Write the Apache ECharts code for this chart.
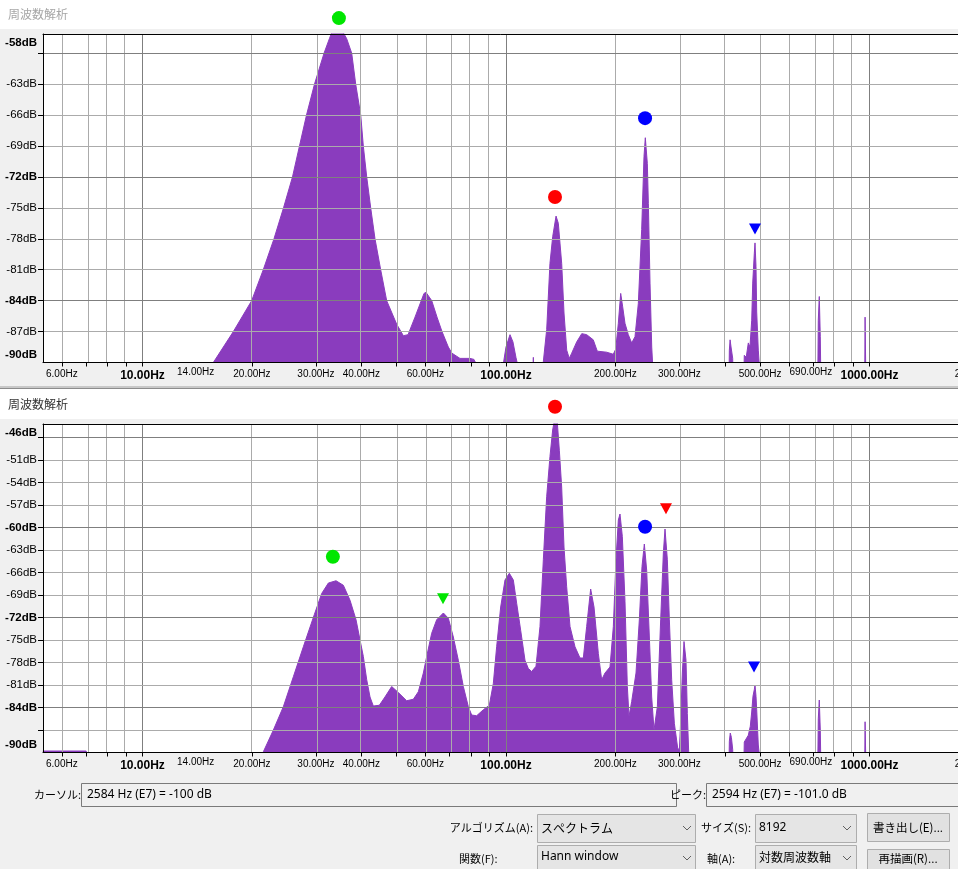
<!DOCTYPE html>
<html>
<head>
<meta charset="utf-8">
<script src="https://cdn.jsdelivr.net/npm/echarts@6/dist/echarts.min.js"></script>
<style>
  html, body { margin: 0; padding: 0; background: #f0f0f0; }
  #main { width: 958px; height: 869px; }
</style>
</head>
<body>
<div id="main"></div>
<script>
const topHz = [5.32, 15.3, 15.66, 17.78, 19.97, 21.49, 23.0, 24.43, 25.86, 27.03, 28.26, 29.73, 31.58, 32.66, 33.16, 34.4, 35.68, 36.46, 37.63, 38.59, 39.84, 40.5, 41.38, 42.44, 43.61, 45.21, 46.96, 50.05, 52.19, 53.77, 56.19, 59.49, 60.25, 62.47, 64.6, 66.68, 69.39, 71.03, 74.72, 79.6, 81.64, 83.73, 84.5,
  97.5, 97.93, 100, 102.56, 104.5, 106.5, 108.1, 108.6,
  118.5, 118.9, 119.4,
  126.2, 126.6, 129.4, 132.1, 134.4, 137.3, 139.3, 142.3, 144.4, 146.9, 149.3, 151.6, 156.5, 161.6, 166.7, 173.8, 178.3, 189.2, 197.3, 200.4, 203.7, 206.8, 209.4, 212.5, 217.0, 221.7, 226.4, 231.2, 236.2, 239.7, 241.7, 244.8, 246.4, 249.0, 251.7, 253.3, 254,
  410.5, 411.6, 413.5, 416, 420.4, 421.5,
  451, 452.4, 458, 464.1, 469, 474.2, 477.2, 482.1, 484.2, 487.3, 489.4, 494.4, 497.5, 498.5,
  720.5, 723, 727.6, 732.2, 735,
  970, 972.5, 975, 977.5, 3000];
const topDb = [-92, -92, -90, -87, -84, -81, -78, -75, -72, -69, -66, -63, -60, -58.6, -58.0, -57.6, -58.0, -58.6, -60, -63, -66, -69, -72, -75, -78, -81, -84, -86.3, -87.4, -87.3, -85.6, -83.3, -83.2, -84, -85.6, -87, -88.5, -89.1, -89.6, -89.6, -89.7, -90.5, -92,
  -92, -90.5, -88.5, -87.3, -88, -89.5, -90.5, -92,
  -92, -89.5, -92,
  -92, -90, -86.8, -80.4, -77.8, -75.8, -76.5, -80.4, -85.2, -88.8, -89.6, -89.1, -88.0, -87.2, -87.3, -87.8, -88.9, -89.0, -89.2, -88.7, -86.2, -83.3, -84.6, -86.2, -87.3, -88.1, -87.5, -84.3, -77.1, -70.0, -68.2, -70.7, -74.6, -82.3, -88.5, -90.3, -92,
  -92, -88.8, -87.8, -88.5, -89.6, -92,
  -92, -89.3, -89.5, -88.1, -88.5, -85.9, -82.3, -79.4, -78.4, -80.7, -85.1, -88.8, -90.2, -92,
  -92, -85.9, -83.6, -87.5, -92,
  -92, -85.6, -85.6, -92, -92];

const bottomHz = [5.32, 7.0, 7.05, 21.3, 21.5, 22.91, 24.4, 26.0, 27.7, 29.7, 31.11, 32.46, 34.07, 35.69, 37.23, 38.67, 39.67, 40.51, 41.38, 42.26, 43.15, 44.83, 46.45, 48.47, 50.56, 53.3, 55.6, 57.39, 59.24, 60.51, 62.45, 64.46, 67.25, 69.4, 71.63, 73.94, 76.32, 78.78, 80.46, 83.03, 86.61, 89.97, 92.28, 94.25, 96.68, 99.37, 102.13, 104.75, 106.99, 109.73, 112.78, 115.19, 117.65, 120.93, 124.03, 126.68, 129.38, 132.14, 134.39, 135.53, 138.42, 140.19, 142.28, 144.4, 146.86, 150.0, 154.81, 159.8, 163.21, 166.69, 170.97, 174.62, 179.48, 183.31, 187.22, 193.24, 197.37, 200.73, 203.72, 205.88, 208.95, 212.51, 215.68, 217.97, 221.69, 227.85, 232.71, 236.67, 240.2, 243.78, 247.94, 251.63, 255.38, 260.83, 266.4, 270.94, 273.81, 277.89, 281.43, 285.62, 290.49, 296.69, 299.84, 301.74, 305.59, 308.83, 312.77, 315.41, 318.09, 319.44,
  410.5, 411.6, 414, 417, 420.4, 421.5,
  451, 452.4, 458, 464.1, 470, 474.2, 478, 482.1, 484.2, 487.3, 489.4, 494.4, 497.5, 498.5,
  720.5, 723, 727.6, 732.2, 735,
  970, 972.5, 975, 977.5, 3000];
const bottomDb = [-89.8, -89.8, -92, -92, -89.9, -87.0, -83.9, -79.9, -75.9, -71.6, -68.8, -67.4, -67.1, -67.7, -69.7, -72.3, -75.0, -77.2, -80.3, -82.6, -83.8, -83.7, -82.6, -81.2, -82.0, -83.1, -82.9, -81.9, -79.4, -77.2, -74.1, -72.3, -71.4, -72.1, -74.6, -77.7, -81.2, -83.9, -85.0, -85.1, -84.3, -83.7, -80.8, -75.9, -70.6, -67.0, -66.1, -67.0, -70.1, -73.7, -77.7, -78.8, -79.2, -78.5, -73.2, -64.3, -55.9, -50.5, -47.0, -46.0, -46.0, -49.7, -54.6, -62.6, -67.9, -73.2, -75.9, -77.4, -77.4, -73.2, -68.2, -70.6, -76.8, -80.3, -79.4, -78.6, -73.2, -64.3, -59.0, -58.2, -61.2, -69.9, -81.2, -85.2, -83.2, -79.4, -72.3, -65.2, -62.2, -65.7, -74.6, -82.6, -87.0, -83.9, -72.3, -63.4, -60.2, -64.3, -72.3, -80.3, -86.1, -89.4, -89.7, -86.8, -79.4, -75.2, -77.7, -84.8, -89.9, -92,
  -92, -88.5, -87.4, -88, -89.6, -92,
  -92, -88.6, -88.8, -87.7, -86.5, -84.6, -82.5, -81.6, -81.0, -82.5, -84.3, -89, -90.2, -92,
  -92, -85.5, -83.0, -87.0, -92,
  -92, -85.9, -85.9, -92, -92];

// peak markers
const topCircleHz = [34.7, 136.4, 241.3];
const topCircleDb = [-56.6, -73.95, -66.3];
const topTriangleHz = [484.2];
const topTriangleDb = [-77.05];
const bottomCircleHz = [33.4, 136.4, 241.3];
const bottomCircleDb = [-63.9, -43.9, -59.9];
const bottomTriangleHz = [67.1, 275.5, 481.2];
const bottomTriangleDb = [-69.5, -57.5, -78.6];

// frequency ruler
const gridHz = [6, 7, 8, 9, 10, 20, 30, 40, 50, 60, 70, 80, 90, 100, 200, 300, 400, 500, 600, 700, 800, 900, 1000, 2000, 3000];
const decadeHz = [10, 100, 1000];
const xLabelHz = [6, 10, 14, 20, 30, 40, 60, 100, 200, 300, 500, 690, 1000, 2000];
const xLabelText = ['6.00Hz', '10.00Hz', '14.00Hz', '20.00Hz', '30.00Hz', '40.00Hz', '60.00Hz', '100.00Hz', '200.00Hz', '300.00Hz', '500.00Hz', '690.00Hz', '1000.00Hz', '2000.00Hz'];
const xSmallHz = [14, 690];

// dB rulers
const topGridDb = [-60, -63, -66, -69, -72, -75, -78, -81, -84, -87];
const topMajorDb = [-60, -72, -84];
const topLabelDb = [-59.0, -63, -66, -69, -72, -75, -78, -81, -84, -87, -89.3];
const topLabelText = ['-58dB', '-63dB', '-66dB', '-69dB', '-72dB', '-75dB', '-78dB', '-81dB', '-84dB', '-87dB', '-90dB'];
const topBoldText = ['-58dB', '-72dB', '-84dB', '-90dB'];
const bottomGridDb = [-48, -51, -54, -57, -60, -63, -66, -69, -72, -75, -78, -81, -84, -87];
const bottomMajorDb = [-48, -60, -72, -84];
const bottomLabelDb = [-47.4, -51, -54, -57, -60, -63, -66, -69, -72, -75, -78, -81, -84, -89.0];
const bottomLabelText = ['-46dB', '-51dB', '-54dB', '-57dB', '-60dB', '-63dB', '-66dB', '-69dB', '-72dB', '-75dB', '-78dB', '-81dB', '-84dB', '-90dB'];
const bottomBoldText = ['-46dB', '-60dB', '-72dB', '-84dB', '-90dB'];

const PURPLE = '#8a3cbe';
const LIGHT = '#ababab';
const DARK = '#7f7f7f';
const FONT = 'Liberation Sans';
const JP = '"Noto Sans CJK JP"';

const xMin = Math.log10(5.324);
const xMax = 3.4003;
const topMax = -58.14;
const bottomMax = -46.2;

function nearest(list, v) {
  let k = 0;
  for (let i = 1; i < list.length; i++) {
    if (Math.abs(list[i] - v) < Math.abs(list[k] - v)) k = i;
  }
  return k;
}

const xLabelLog = xLabelHz.map(Math.log10);

function xAxisFor(grid) {
  return {
    type: 'value', gridIndex: grid, min: xMin, max: xMax, position: 'bottom', z: 6,
    axisLine: { show: true, lineStyle: { color: '#000', width: 1 } },
    axisTick: { show: true, length: 4, lineStyle: { color: '#000' }, customValues: gridHz.map(Math.log10) },
    splitLine: { show: false },
    axisLabel: {
      show: true, margin: 5, color: '#000', fontFamily: FONT,
      customValues: xLabelLog,
      formatter: v => {
        const i = nearest(xLabelLog, v);
        const f = xLabelHz[i];
        const st = decadeHz.includes(f) ? 'b' : (xSmallHz.includes(f) ? 's' : 'n');
        return '{' + st + '|' + xLabelText[i] + '}';
      },
      rich: {
        n: { fontSize: 10, lineHeight: 13, color: '#000', fontFamily: FONT },
        b: { fontSize: 12, lineHeight: 17, fontWeight: 'bold', color: '#000', fontFamily: FONT },
        s: { fontSize: 10, lineHeight: 10, color: '#000', fontFamily: FONT }
      }
    }
  };
}

function topBorderFor(grid) {
  return {
    type: 'value', gridIndex: grid, min: xMin, max: xMax, position: 'top', z: 6,
    axisLine: { show: true, lineStyle: { color: '#000', width: 1 } },
    axisTick: { show: false }, axisLabel: { show: false }, splitLine: { show: false }
  };
}

function yAxisFor(grid, max, tickDb, labelDb, labelText, boldText) {
  return {
    type: 'value', gridIndex: grid, min: -90, max: max, z: 6,
    axisLine: { show: true, lineStyle: { color: '#000', width: 1 } },
    axisTick: { show: true, length: 5, lineStyle: { color: '#000' }, customValues: tickDb },
    splitLine: { show: false },
    axisLabel: {
      show: true, margin: 6, customValues: labelDb,
      formatter: v => {
        const t = labelText[nearest(labelDb, v)];
        return '{' + (boldText.includes(t) ? 'b' : 'n') + '|' + t + '}';
      },
      rich: {
        n: { fontSize: 11.5, color: '#000', fontFamily: FONT },
        b: { fontSize: 11.5, fontWeight: 'bold', color: '#000', fontFamily: FONT }
      }
    }
  };
}

function gridLines(hDb, majorDb) {
  const v = gridHz.map(f => ({ xAxis: Math.log10(f), lineStyle: { color: decadeHz.includes(f) ? DARK : LIGHT, width: 1, type: 'solid' } }));
  const h = hDb.map(d => ({ yAxis: d, lineStyle: { color: majorDb.includes(d) ? DARK : LIGHT, width: 1, type: 'solid' } }));
  return {
    silent: true, animation: false, symbol: ['none', 'none'],
    label: { show: false }, emphasis: { disabled: true },
    data: v.concat(h)
  };
}

function spectrum(idx, hz, db, hDb, majorDb) {
  return {
    type: 'line', xAxisIndex: idx, yAxisIndex: idx,
    data: hz.map((f, i) => [Math.log10(f), db[i]]),
    showSymbol: false, symbol: 'none', clip: true, silent: true, animation: false,
    lineStyle: { color: PURPLE, width: 1 },
    areaStyle: { color: PURPLE, opacity: 1, origin: 'start' },
    markLine: gridLines(hDb, majorDb)
  };
}

function markers(idx, hz, db, colors, symbol, size, rotate) {
  return {
    type: 'scatter', xAxisIndex: idx, yAxisIndex: idx, clip: false, silent: true, animation: false,
    symbol: symbol, symbolSize: size, symbolRotate: rotate, z: 10,
    data: hz.map((f, i) => ({ value: [Math.log10(f), db[i]], itemStyle: { color: colors[i], opacity: 1 } }))
  };
}

const GREEN = '#00e600', RED = '#ff0000', BLUE = '#0000ff';

// window chrome and the controls under the plots
function txt(x, y, s, opt) {
  opt = opt || {};
  return {
    type: 'text', x: x, y: y, silent: true,
    style: {
      text: s, fill: opt.color || '#000', font: (opt.size || 12) + 'px ' + (opt.family || JP),
      align: opt.align || 'left', textAlign: opt.align || 'left',
      verticalAlign: 'middle', textVerticalAlign: 'middle'
    }
  };
}
function box(x, y, w, h, fill, stroke) {
  return { type: 'rect', silent: true, shape: { x: x, y: y, width: w, height: h }, style: { fill: fill, stroke: stroke, lineWidth: 1 } };
}
function chevron(x, y) {
  return { type: 'polyline', silent: true, shape: { points: [[x - 4, y - 2], [x, y + 2], [x + 4, y - 2]] }, style: { stroke: '#606060', fill: null, lineWidth: 1 } };
}

const graphics = [
  box(0, 0, 958, 29, '#ffffff', null),
  txt(8, 14, '周波数解析', { color: '#a6a6a6' }),
  box(0, 386, 958, 2, '#c8c8c8', null),
  box(0, 388, 958, 1, '#8c8c8c', null),
  box(0, 389, 958, 30, '#ffffff', null),
  txt(8, 404, '周波数解析', { color: '#333333' }),

  txt(81, 795, 'カーソル:', { align: 'right', size: 11 }),
  box(81.5, 783.5, 595, 23, '#f0f0f0', '#7a7a7a'),
  txt(87, 795, '2584 Hz (E7) = -100 dB', { family: '"Noto Sans"', size: 12 }),
  txt(706, 795, 'ピーク:', { align: 'right', size: 11 }),
  box(706.5, 783.5, 270, 23, '#f0f0f0', '#7a7a7a'),
  txt(712, 795, '2594 Hz (E7) = -101.0 dB', { family: '"Noto Sans"', size: 12 }),

  txt(533, 828, 'アルゴリズム(A):', { align: 'right', size: 11 }),
  box(537.5, 814.5, 158, 28, '#e5e5e5', '#adadad'),
  txt(541, 828, 'スペクトラム', { size: 12 }),
  chevron(687, 828),
  txt(751, 828, 'サイズ(S):', { align: 'right', size: 11 }),
  box(755.5, 814.5, 101, 28, '#e5e5e5', '#adadad'),
  txt(759, 828, '8192', { family: '"Noto Sans"', size: 12 }),
  chevron(847, 828),
  box(867.5, 813.5, 82, 28, '#e1e1e1', '#adadad'),
  txt(908, 828, '書き出し(E)...', { align: 'center', size: 11.5 }),

  txt(459, 859, '関数(F):', { size: 11 }),
  box(537.5, 845.5, 158, 28, '#e5e5e5', '#adadad'),
  txt(541, 857, 'Hann window', { family: '"Noto Sans"', size: 12 }),
  chevron(687, 858),
  txt(707, 859, '軸(A):', { size: 11 }),
  box(755.5, 845.5, 101, 28, '#e5e5e5', '#adadad'),
  txt(759, 857, '対数周波数軸', { size: 12 }),
  chevron(847, 858),
  box(867.5, 849.5, 82, 26, '#e1e1e1', '#adadad'),
  txt(908, 859, '再描画(R)...', { align: 'center', size: 11.5 })
];

const chart = echarts.init(document.getElementById('main'), null, { renderer: 'canvas' });
chart.setOption({
  backgroundColor: '#f0f0f0',
  animation: false,
  textStyle: { fontFamily: FONT },
  grid: [
    { left: 43, top: 34, right: -57, height: 328.5, show: true, backgroundColor: '#ffffff', borderWidth: 0, containLabel: false, outerBoundsMode: 'none' },
    { left: 43, top: 424, right: -57, height: 328.5, show: true, backgroundColor: '#ffffff', borderWidth: 0, containLabel: false, outerBoundsMode: 'none' }
  ],
  xAxis: [xAxisFor(0), xAxisFor(1), topBorderFor(0), topBorderFor(1)],
  yAxis: [
    yAxisFor(0, topMax, topGridDb, topLabelDb, topLabelText, topBoldText),
    yAxisFor(1, bottomMax, bottomGridDb, bottomLabelDb, bottomLabelText, bottomBoldText)
  ],
  series: [
    spectrum(0, topHz, topDb, topGridDb, topMajorDb),
    spectrum(1, bottomHz, bottomDb, bottomGridDb, bottomMajorDb),
    markers(0, topCircleHz, topCircleDb, [GREEN, RED, BLUE], 'circle', 14, 0),
    markers(0, topTriangleHz, topTriangleDb, [BLUE], 'triangle', [12, 11], 180),
    markers(1, bottomCircleHz, bottomCircleDb, [GREEN, RED, BLUE], 'circle', 14, 0),
    markers(1, bottomTriangleHz, bottomTriangleDb, [GREEN, RED, BLUE], 'triangle', [12, 11], 180)
  ],
  graphic: graphics
});
</script>
</body>
</html>
